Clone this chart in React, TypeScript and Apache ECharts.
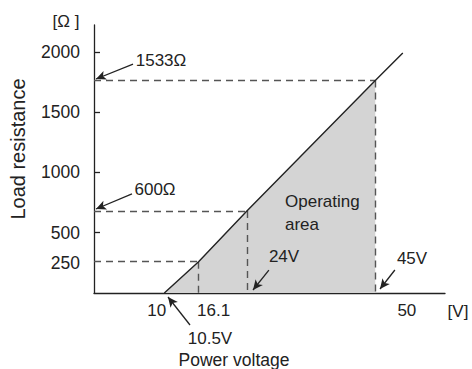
import React, { useEffect, useRef } from "react";
import * as echarts from "echarts";

// Operating curve (power voltage [V] vs load resistance [Ω])
const voltage = [10.5, 16.1, 24, 45, 49.5];
const resistance = [0, 260, 680, 1763, 1992];
// Operating area spans 10.5V .. 45V
const areaVoltage = [10.5, 16.1, 24, 45];
const areaResistance = [0, 260, 680, 1763];
// Marked points (dashed guides)
const markVoltage = [16.1, 24, 45];
const markResistance = [260, 680, 1763];
// Axis ticks
const xTickValues = [10, 16.1, 50];
const yTickValues = [250, 500, 1000, 1500, 2000];
const yTickMarks = [500, 1000, 1500, 2000];
const X_MIN = -1;
const X_MAX = 56.4;
const Y_MIN = 0;
const Y_MAX = 2224;

// Annotation arrows inside the plot: [tailX, tailY, tipX, tipY] in data units
const arrows = [
  [5.38, 1900, -0.67, 1776],
  [5.21, 822, -0.67, 697],
  [27.6, 190, 25.0, 25],
  [48.2, 191, 45.77, 33],
];

const FONT = "Liberation Sans, Arial, Helvetica, sans-serif";
const INK = "#222";

export default function App() {
  const ref = useRef<HTMLDivElement>(null);
  useEffect(() => {
    if (!ref.current) return;
    const chart = echarts.init(ref.current, null, { renderer: "svg" });

    const dashStyle = { color: "#555", width: 1.4, type: [7, 5] as any };
    const dashed: any[] = [];
    markVoltage.forEach((v, i) => {
      const r = markResistance[i];
      dashed.push([{ coord: [X_MIN, r] }, { coord: [v, r] }]);
      dashed.push([{ coord: [v, r] }, { coord: [v, Y_MIN] }]);
    });
    const arrowLines: any[] = arrows.map((a) => [
      { coord: [a[0], a[1]] },
      { coord: [a[2], a[3]] },
    ]);
    // 10.5V arrow lies below the plot area (annotation, pixel placed)
    arrowLines.push([{ x: 190, y: 325 }, { x: 168, y: 297 }]);

    const text = (t: string, x: number, y: number, extra: any = {}, size = 17) => ({
      type: "text",
      x,
      y,
      z: 100,
      silent: true,
      style: {
        text: t,
        fill: INK,
        font: `${size}px ${FONT}`,
        align: "center",
        verticalAlign: "middle",
        ...extra,
      },
    });

    chart.setOption({
      animation: false,
      backgroundColor: "#fff",
      grid: { left: 94, right: 27, top: 25, bottom: 76, containLabel: false, outerBoundsMode: "none" } as any,
      xAxis: {
        type: "value",
        min: X_MIN,
        max: X_MAX,
        axisLine: { show: true, onZero: false, lineStyle: { color: INK, width: 1.3 } },
        axisTick: { show: false },
        splitLine: { show: false },
        axisLabel: {
          customValues: xTickValues,
          margin: 9,
          color: INK,
          fontSize: 17,
          fontFamily: FONT,
          formatter: (v: number) =>
            v === 10 ? "{l|10}" : v === 16.1 ? "{r|16.1}" : "{c|" + v + "}",
          rich: {
            l: { fontSize: 17, fontFamily: FONT, color: INK, padding: [0, 9, 0, 0] },
            r: { fontSize: 17, fontFamily: FONT, color: INK, padding: [0, 0, 0, 30] },
            c: { fontSize: 17, fontFamily: FONT, color: INK, padding: [0, 0, 0, 2] },
          },
        } as any,
      },
      yAxis: {
        type: "value",
        min: Y_MIN,
        max: Y_MAX,
        axisLine: { show: true, onZero: false, lineStyle: { color: INK, width: 1.3 } },
        axisTick: { show: true, inside: true, length: 6, customValues: yTickMarks, lineStyle: { color: INK, width: 1.3 } } as any,
        splitLine: { show: false },
        axisLabel: {
          customValues: yTickValues,
          margin: 14,
          color: INK,
          fontSize: 17.5,
          fontFamily: FONT,
          formatter: (v: number) => String(v),
        } as any,
      },
      series: [
        {
          type: "line",
          data: areaVoltage.map((v, i) => [v, areaResistance[i]]),
          showSymbol: false,
          symbol: "none",
          lineStyle: { width: 0 },
          areaStyle: { color: "#d4d4d4", opacity: 1 },
          silent: true,
          z: 1,
        },
        {
          type: "line",
          data: voltage.map((v, i) => [v, resistance[i]]),
          showSymbol: false,
          symbol: "none",
          lineStyle: { color: INK, width: 1.4 },
          silent: true,
          clip: false,
          z: 3,
          markLine: {
            silent: true,
            symbol: ["none", "none"],
            label: { show: false },
            lineStyle: dashStyle,
            data: dashed,
            z: 2,
          },
        },
        {
          type: "line",
          data: [],
          silent: true,
          clip: false,
          z: 4,
          markLine: {
            silent: true,
            symbol: ["none", "arrow"],
            symbolSize: [7, 10],
            label: { show: false },
            lineStyle: { color: INK, width: 1.3, type: "solid" },
            itemStyle: { color: INK },
            data: arrowLines,
          },
        },
      ],
      graphic: [
        text("[Ω ]", 66, 21),
        { ...text("Load resistance", 18, 149, {}, 20), rotation: Math.PI / 2 },
        text("Power voltage", 234, 360, {}, 17.5),
        text("[V]", 458, 311),
        text("10.5V", 210, 338),
        text("24V", 284, 256),
        text("45V", 412, 258),
        text("Operating", 285, 201, { align: "left" }),
        text("area", 285, 224, { align: "left" }),
        text("1533Ω", 161, 60),
        text("600Ω", 155, 189),
      ],
    });
    return () => chart.dispose();
  }, []);
  return (
    <div
      ref={ref}
      style={{ position: "fixed", left: 0, top: 0, width: 472, height: 369 }}
    />
  );
}
